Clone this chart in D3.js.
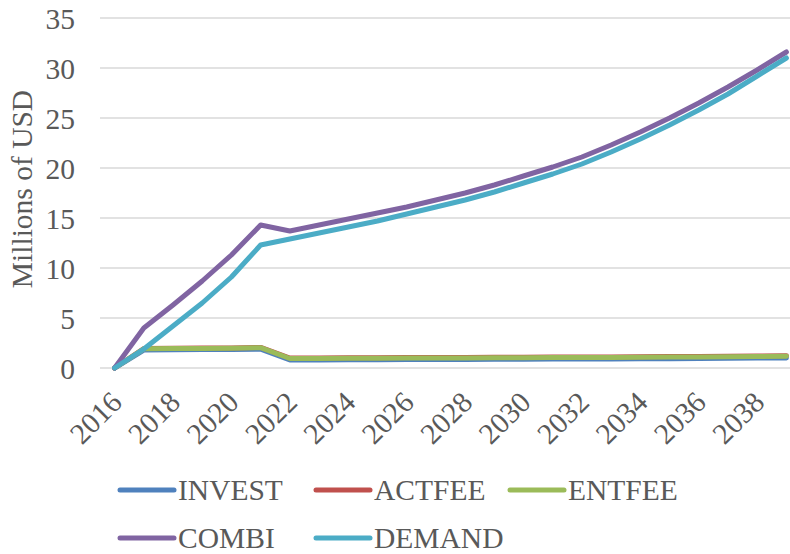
<!DOCTYPE html>
<html>
<head>
<meta charset="utf-8">
<script src="https://cdn.jsdelivr.net/npm/d3@7"></script>
<style>
  body { margin: 0; background: #fff; }
  svg text { font-family: "Liberation Serif", "Times New Roman", serif; fill: #595959; }
</style>
</head>
<body>
<div class="chart"></div>
<script>
var years = [2016, 2017, 2018, 2019, 2020, 2021, 2022, 2023, 2024, 2025, 2026, 2027,
             2028, 2029, 2030, 2031, 2032, 2033, 2034, 2035, 2036, 2037, 2038, 2039];

var invest = [0, 1.80, 1.82, 1.84, 1.86, 1.88, 0.80, 0.81, 0.82, 0.83, 0.84, 0.85,
              0.86, 0.87, 0.88, 0.89, 0.90, 0.91, 0.92, 0.93, 0.95, 0.97, 0.99, 1.01];
var actfee = [0, 1.95, 1.97, 1.99, 2.01, 2.06, 1.00, 1.01, 1.02, 1.03, 1.04, 1.05,
              1.06, 1.07, 1.08, 1.09, 1.10, 1.11, 1.12, 1.14, 1.16, 1.18, 1.20, 1.22];
var entfee = [0, 1.92, 1.94, 1.96, 1.98, 2.03, 0.95, 0.96, 0.97, 0.98, 0.99, 1.00,
              1.01, 1.02, 1.03, 1.04, 1.05, 1.06, 1.07, 1.09, 1.11, 1.13, 1.15, 1.17];
var combi  = [0, 4.0, 6.3, 8.7, 11.3, 14.3, 13.7, 14.3, 14.9, 15.5, 16.1, 16.8,
              17.5, 18.3, 19.2, 20.1, 21.1, 22.3, 23.6, 25.0, 26.5, 28.1, 29.8, 31.6];
var demand = [0, 1.9, 4.2, 6.5, 9.1, 12.3, 12.9, 13.5, 14.1, 14.7, 15.4, 16.1,
              16.8, 17.6, 18.5, 19.4, 20.4, 21.6, 22.9, 24.3, 25.8, 27.4, 29.2, 31.0];

var seriesNames = ["INVEST", "ACTFEE", "ENTFEE", "COMBI", "DEMAND"];
var seriesColors = ["#4F81BD", "#C0504D", "#9BBB59", "#8064A2", "#4BACC6"];
var yTicks = [0, 5, 10, 15, 20, 25, 30, 35];
var xTickYears = [2016, 2018, 2020, 2022, 2024, 2026, 2028, 2030, 2032, 2034, 2036, 2038];

var seriesValues = [invest, actfee, entfee, combi, demand];

var width = 790, height = 554;
var plot = {left: 100, right: 801, top: 18, bottom: 368};
var fontSize = "29.5px";

var svg = d3.select(".chart").append("svg")
    .attr("width", width)
    .attr("height", height);

var x = d3.scaleBand()
    .domain(years)
    .range([plot.left, plot.right])
    .padding(0);

function cx(yr) { return x(yr) + x.bandwidth() / 2; }

var y = d3.scaleLinear()
    .domain([0, 35])
    .range([plot.bottom, plot.top]);

// gridlines
svg.append("g")
    .attr("class", "grid")
  .selectAll("line")
    .data(yTicks)
  .enter().append("line")
    .attr("x1", plot.left)
    .attr("x2", plot.right)
    .attr("y1", function(d) { return y(d); })
    .attr("y2", function(d) { return y(d); })
    .style("stroke", "#D9D9D9")
    .style("stroke-width", 1.5);

// y axis labels
var yAxis = d3.axisLeft(y).tickValues(yTicks).tickSize(0).tickPadding(0);
var yg = svg.append("g")
    .attr("transform", "translate(75,0)")
    .call(yAxis);
yg.select(".domain").remove();
yg.selectAll("text")
    .style("font-size", fontSize)
    .attr("dy", "0.34em");

svg.append("text")
    .attr("transform", "translate(32,189) rotate(-90)")
    .style("text-anchor", "middle")
    .style("font-size", fontSize)
    .text("Millions of USD");

// x axis labels
var xAxis = d3.axisBottom(x).tickValues(xTickYears).tickSize(0).tickPadding(0);
var xg = svg.append("g")
    .attr("transform", "translate(0," + plot.bottom + ")")
    .call(xAxis);
xg.select(".domain").remove();
xg.selectAll("text")
    .style("font-size", fontSize)
    .style("text-anchor", "end")
    .attr("y", 0)
    .attr("dy", 0)
    .attr("transform", "translate(9,36) rotate(-45)");

// lines
var line = d3.line()
    .x(function(d, i) { return cx(years[i]); })
    .y(function(d) { return y(d); });

svg.selectAll(".series")
    .data(seriesValues)
  .enter().append("path")
    .attr("class", "series")
    .attr("d", line)
    .style("fill", "none")
    .style("stroke", function(d, i) { return seriesColors[i]; })
    .style("stroke-width", 5)
    .style("stroke-linecap", "round")
    .style("stroke-linejoin", "round");

// legend
var legendPos = [[120, 490], [316, 490], [510, 490], [120, 538], [316, 538]];

var legend = svg.selectAll(".legend")
    .data(seriesNames)
  .enter().append("g")
    .attr("class", "legend")
    .attr("transform", function(d, i) { return "translate(" + legendPos[i][0] + "," + legendPos[i][1] + ")"; });

legend.append("line")
    .attr("x1", 0)
    .attr("x2", 54)
    .attr("y1", 0)
    .attr("y2", 0)
    .style("stroke", function(d, i) { return seriesColors[i]; })
    .style("stroke-width", 5)
    .style("stroke-linecap", "round");

legend.append("text")
    .attr("x", 58)
    .attr("y", 0)
    .attr("dy", "0.34em")
    .style("font-size", fontSize)
    .text(function(d) { return d; });
</script>
</body>
</html>
